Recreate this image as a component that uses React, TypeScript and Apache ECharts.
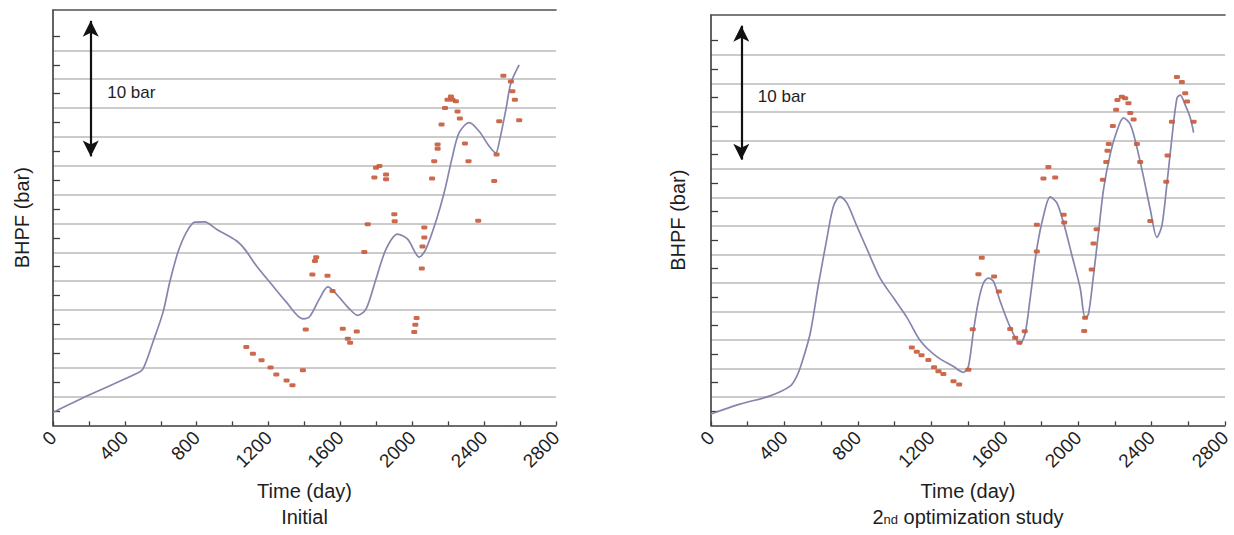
import React, { useEffect, useRef } from "react";
import * as echarts from "echarts";

// ---------- axis ticks ----------
const X_TICKS = [0, 400, 800, 1200, 1600, 2000, 2400, 2800];
const Y_MAX = 28.8; // top of the plot, in the chart's pressure units
const Y_STEP = 2;
const GRID_VALUES = [2, 4, 6, 8, 10, 12, 14, 16, 18, 20, 22, 24, 26];

// ---------- Initial: simulated BHPF curve ----------
const initSimDays = [
  0, 194, 465, 502, 557, 613, 650, 696, 743, 789, 844, 910, 1021, 1067, 1132,
  1206, 1298, 1391, 1428, 1483, 1530, 1576, 1650, 1696, 1743, 1798, 1854, 1918,
  1974, 2039, 2076, 2132, 2178, 2224, 2261, 2317, 2372, 2428, 2465, 2483, 2521,
  2549, 2595,
];
const initSimBhp = [
  0.9, 2.07, 3.59, 3.94, 5.8, 7.87, 9.94, 12.02, 13.4, 14.09, 14.11, 13.6, 12.8,
  12.22, 11.07, 9.94, 8.56, 7.39, 7.53, 8.77, 9.6, 9.12, 8.08, 7.62, 8.08, 10.15,
  12.22, 13.26, 12.91, 11.67, 12.22, 14.16, 16.16, 18.67, 20.3, 20.99, 20.39,
  19.36, 18.9, 19.59, 21.89, 23.74, 25.0,
];

// ---------- Initial: observed BHPF ----------
const initObsDays = [
  1076, 1113, 1161, 1211, 1243, 1300, 1333, 1391, 1407, 1444, 1458, 1465, 1528,
  1556, 1613, 1641, 1654, 1691, 1733, 1752, 1789, 1798, 1817, 1854, 1854, 1900,
  1902, 2011, 2017, 2024, 2053, 2057, 2067, 2067, 2110, 2122, 2141, 2141, 2163,
  2182, 2196, 2215, 2224, 2243, 2252, 2265, 2293, 2313, 2367, 2456, 2469, 2484,
  2507, 2549, 2557, 2571, 2595,
];
const initObsBhp = [
  5.43, 4.97, 4.51, 4.01, 3.52, 3.11, 2.78, 3.82, 6.65, 10.46, 11.4, 11.65,
  10.38, 9.32, 6.7, 6.01, 5.73, 6.51, 12.02, 13.95, 17.18, 17.87, 17.98, 17.4,
  17.06, 14.64, 14.16, 6.47, 6.98, 7.44, 10.88, 12.41, 13.03, 13.72, 17.11,
  18.32, 19.48, 19.18, 20.86, 22.01, 22.58, 22.81, 22.58, 22.47, 21.77, 21.27,
  19.54, 18.32, 14.18, 16.94, 18.78, 21.08, 24.24, 23.85, 23.16, 22.58, 21.15,
];

// ---------- 2nd optimization study: simulated BHPF curve ----------
const optSimDays = [
  0, 158, 322, 431, 467, 494, 540, 585, 631, 667, 703, 740, 794, 857, 921, 994,
  1067, 1139, 1230, 1321, 1375, 1402, 1430, 1457, 1484, 1511, 1539, 1575, 1630,
  1684, 1711, 1739, 1775, 1811, 1848, 1884, 1920, 1966, 2011, 2038, 2056, 2084,
  2111, 2138, 2175, 2211, 2247, 2284, 2320, 2356, 2393, 2429, 2456, 2484, 2511,
  2538, 2556, 2583, 2611, 2629,
];
const optSimBhp = [
  0.8, 1.49, 2.07, 2.75, 3.44, 4.36, 6.43, 9.87, 13.09, 15.38, 16.05, 15.61,
  14.0, 12.16, 10.33, 8.95, 7.58, 5.96, 4.82, 4.13, 3.72, 4.13, 6.65, 8.72,
  9.99, 10.33, 10.1, 8.72, 6.89, 5.74, 6.43, 8.95, 12.4, 14.69, 16.03, 15.61,
  14.23, 11.94, 9.64, 7.58, 7.8, 10.56, 13.54, 16.53, 19.05, 20.66, 21.58,
  21.12, 19.51, 17.44, 15.15, 13.2, 14.0, 16.98, 20.2, 22.95, 23.18, 22.49,
  21.58, 20.54,
];

// ---------- 2nd optimization study: observed BHPF ----------
const optObsDays = [
  1094, 1121, 1147, 1184, 1215, 1239, 1266, 1321, 1352, 1402, 1426, 1457, 1475,
  1542, 1568, 1630, 1657, 1680, 1709, 1775, 1775, 1811, 1838, 1875, 1921, 1924,
  2033, 2038, 2074, 2084, 2101, 2135, 2153, 2160, 2167, 2189, 2207, 2214, 2238,
  2256, 2274, 2284, 2302, 2320, 2338, 2393, 2480, 2487, 2511, 2538, 2565, 2583,
  2593, 2629,
];
const optObsBhp = [
  5.46, 5.17, 4.93, 4.59, 4.08, 3.79, 3.6, 3.1, 2.87, 3.9, 6.74, 10.61, 11.76,
  10.44, 9.39, 6.77, 6.15, 5.79, 6.6, 12.21, 14.08, 17.33, 18.13, 17.39, 14.79,
  14.23, 6.63, 7.56, 10.94, 12.76, 13.77, 17.24, 18.48, 19.28, 19.74, 21.01,
  22.15, 22.84, 23.07, 22.95, 22.61, 21.92, 21.46, 19.74, 18.48, 14.35, 17.1,
  18.94, 21.3, 24.45, 24.1, 23.3, 22.73, 21.3,
];

// ---------- "10 bar" scale arrow (tips, in chart units) ----------
const ARROW_LOW = 18.1;
const ARROW_HIGH = 28.6;
const ARROW_DAY_INIT = 210;
const ARROW_DAY_OPT = 165;
const ARROW_LABEL = "10 bar";
const ARROW_LABEL_Y = 23.1;

const FONT = "'Liberation Sans', Arial, Helvetica, sans-serif";
const TEXT = "#1e1e1e";
const AXIS = "#3c3c3c";
const GRID = "#cbcbcb";
const SIM = "#8585ae";
const OBS = "#c85a3a";

const zip = (xs: number[], ys: number[]) => xs.map((x, i) => [x, ys[i]]);

function gridColors(): string[] {
  const vals: number[] = [];
  for (let v = 0; v < Y_MAX; v += Y_STEP) vals.push(v);
  vals.push(Y_MAX);
  return vals.map((v) => (GRID_VALUES.includes(v) ? GRID : "transparent"));
}

function xAxisBottom(gridIndex: number, name: string) {
  return {
    type: "value",
    gridIndex,
    position: "bottom",
    min: X_TICKS[0],
    max: X_TICKS[X_TICKS.length - 1],
    interval: X_TICKS[1] - X_TICKS[0],
    axisLine: { show: true, onZero: false, lineStyle: { color: AXIS, width: 1.6 } },
    axisTick: { show: true, inside: true, length: 4, lineStyle: { color: AXIS, width: 1.3 } },
    minorTick: { show: true, splitNumber: 2, length: 4, lineStyle: { color: AXIS, width: 1.3 } },
    axisLabel: {
      rotate: 45,
      margin: 9,
      fontSize: 19,
      color: TEXT,
      fontFamily: FONT,
      formatter: (v: number) => (X_TICKS.includes(v) ? String(v) : ""),
    },
    splitLine: { show: false },
    name,
    nameLocation: "middle",
    nameGap: 52,
    nameTextStyle: {
      fontFamily: FONT,
      color: TEXT,
      fontSize: 20,
      lineHeight: 26,
      rich: {
        a: { fontFamily: FONT, color: TEXT, fontSize: 20, lineHeight: 26 },
        s: {
          fontFamily: FONT,
          color: TEXT,
          fontSize: 13,
          lineHeight: 13,
          verticalAlign: "middle",
          padding: [5, 0, 0, 0],
        },
      },
    },
  };
}

function xAxisTop(gridIndex: number) {
  return {
    type: "value",
    gridIndex,
    position: "top",
    min: X_TICKS[0],
    max: X_TICKS[X_TICKS.length - 1],
    axisLine: { show: true, onZero: false, lineStyle: { color: "#505050", width: 1.6 } },
    axisTick: { show: false },
    axisLabel: { show: false },
    splitLine: { show: false },
  };
}

function yAxis(gridIndex: number, nameGap: number) {
  return {
    type: "value",
    gridIndex,
    min: 0,
    max: Y_MAX,
    interval: Y_STEP,
    axisLine: { show: true, onZero: false, lineStyle: { color: AXIS, width: 1.6 } },
    axisTick: { show: false, inside: true },
    minorTick: { show: true, splitNumber: 2, length: 7, lineStyle: { color: AXIS, width: 1.3 } },
    axisLabel: { show: false },
    splitLine: { show: true, lineStyle: { color: gridColors(), width: 2.2 } },
    name: "BHPF (bar)",
    nameLocation: "middle",
    nameGap,
    nameTextStyle: { fontFamily: FONT, color: TEXT, fontSize: 20 },
  };
}

function arrowMarks(day: number) {
  const head = 0.55; // arrow heads are centred on the end points
  return {
    markLine: {
      silent: true,
      symbol: ["arrow", "arrow"],
      symbolSize: [12, 16],
      label: { show: false },
      lineStyle: { color: "#111", width: 2.2, type: "solid" },
      data: [[{ coord: [day, ARROW_LOW + head] }, { coord: [day, ARROW_HIGH - head] }]],
    },
    markPoint: {
      silent: true,
      symbol: "rect",
      symbolSize: 1,
      itemStyle: { color: "transparent" },
      label: {
        show: true,
        position: "right",
        distance: 16,
        formatter: ARROW_LABEL,
        fontFamily: FONT,
        fontSize: 17,
        color: TEXT,
      },
      data: [{ coord: [day, ARROW_LABEL_Y] }],
    },
  };
}

function simSeries(xi: number, yi: number, days: number[], bhp: number[], day: number) {
  return {
    type: "line",
    xAxisIndex: xi,
    yAxisIndex: yi,
    data: zip(days, bhp),
    smooth: 0.3,
    showSymbol: false,
    symbol: "none",
    lineStyle: { color: SIM, width: 1.7 },
    z: 3,
    ...arrowMarks(day),
  };
}

function obsSeries(xi: number, yi: number, days: number[], bhp: number[]) {
  return {
    type: "scatter",
    xAxisIndex: xi,
    yAxisIndex: yi,
    data: zip(days, bhp),
    symbol: "roundRect",
    symbolSize: [6, 4],
    itemStyle: { color: OBS, opacity: 0.9 },
    z: 4,
  };
}

export default function App() {
  const ref = useRef<HTMLDivElement>(null);
  useEffect(() => {
    if (!ref.current) return;
    const chart = echarts.init(ref.current, undefined, { renderer: "svg" });
    chart.setOption({
      animation: false,
      backgroundColor: "#ffffff",
      textStyle: { fontFamily: FONT },
      grid: [
        { left: 53, top: 10, width: 503, height: 417 },
        { left: 711, top: 15, width: 514, height: 418 },
      ],
      xAxis: [
        xAxisBottom(0, "{a|Time (day)}\n{a|Initial}"),
        xAxisTop(0),
        xAxisBottom(1, "{a|Time (day)}\n{a|2}{s|nd}{a| optimization study}"),
        xAxisTop(1),
      ],
      yAxis: [yAxis(0, 21), yAxis(1, 23)],
      series: [
        simSeries(0, 0, initSimDays, initSimBhp, ARROW_DAY_INIT),
        obsSeries(0, 0, initObsDays, initObsBhp),
        simSeries(2, 1, optSimDays, optSimBhp, ARROW_DAY_OPT),
        obsSeries(2, 1, optObsDays, optObsBhp),
      ],
    });
    return () => chart.dispose();
  }, []);
  return (
    <div
      ref={ref}
      style={{ position: "absolute", left: 0, top: 0, width: 1234, height: 535, background: "#fff" }}
    />
  );
}
